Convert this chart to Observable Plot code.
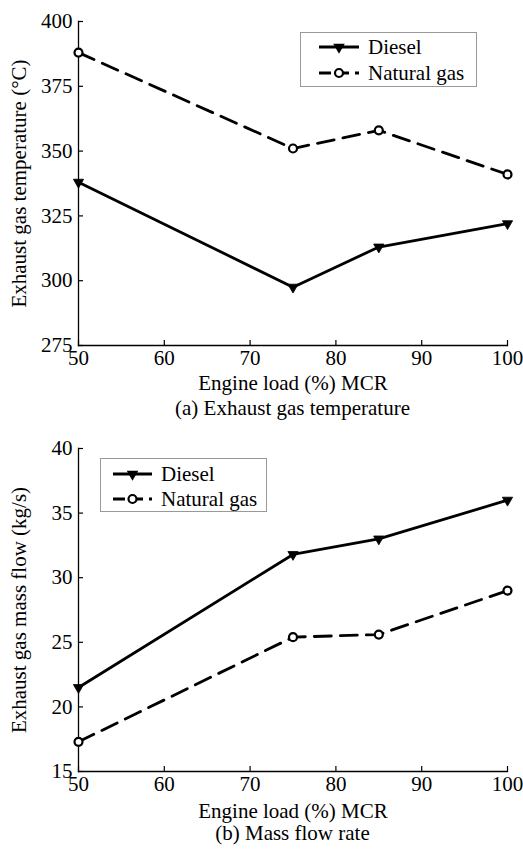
<!DOCTYPE html>
<html>
<head>
<meta charset="utf-8">
<script src="https://cdn.jsdelivr.net/npm/d3@7"></script>
<script src="https://cdn.jsdelivr.net/npm/@observablehq/plot@0.6"></script>
<style>
  html, body { margin: 0; padding: 0; background: #fff; }
  #wrap { position: relative; width: 523px; height: 851px; font-family: "Liberation Serif", "Times New Roman", serif; color: #000; }
  .panel { position: absolute; left: 0; }
  .caption { position: absolute; left: 78px; width: 429px; text-align: center; font-size: 21px; line-height: 21px; }
  .legend { position: absolute; border: 1px solid #999; background: #fff; box-sizing: border-box; }
</style>
</head>
<body>
<div id="wrap"></div>
<script>
// Engine load points (% MCR)
const loads = [50, 75, 85, 100];
const xTicks = [50, 60, 70, 80, 90, 100];

// (a) Exhaust gas temperature, °C
const tempDiesel = [338, 297.5, 313, 322];
const tempGas = [388, 351, 358, 341];
const tempTicks = [275, 300, 325, 350, 375, 400];

// (b) Exhaust gas mass flow, kg/s
const flowDiesel = [21.5, 31.8, 33, 36];
const flowGas = [17.3, 25.4, 25.6, 29];
const flowTicks = [15, 20, 25, 30, 35, 40];

const seriesNames = ["Diesel", "Natural gas"];

const FONT = "'Liberation Serif', 'Times New Roman', serif";
const LINE_W = 2.8;
const DASH = "17,9";

const rows = (vals) => loads.map((x, i) => ({x, y: vals[i]}));

function panel({diesel, gas, yDomain, yTicks, yLabel, height, marginTop, xLabelOffset}) {
  const d = rows(diesel), g = rows(gas);
  return Plot.plot({
    width: 523,
    height,
    marginLeft: 78,
    marginRight: 16,
    marginTop,
    marginBottom: 50,
    style: {fontFamily: FONT, fontSize: "21px", color: "#000", background: "transparent", overflow: "visible"},
    x: {domain: [50, 100]},
    y: {domain: yDomain},
    marks: [
      // axis lines (left and bottom only)
      Plot.frame({anchor: "left", strokeWidth: 1.3}),
      Plot.frame({anchor: "bottom", strokeWidth: 1.3}),
      // inward tick marks
      Plot.axisX({ticks: xTicks, tickSize: 5, dy: -5, text: null, label: null, strokeWidth: 1.2}),
      Plot.axisY({ticks: yTicks, tickSize: 5, dx: 5, text: null, label: null, strokeWidth: 1.2}),
      // tick labels and titles
      Plot.axisX({ticks: xTicks, tickSize: 0, tickPadding: 5, tickFormat: d3.format("d"),
        label: "Engine load (%) MCR", labelAnchor: "center", labelArrow: "none", labelOffset: xLabelOffset, fontSize: 21}),
      Plot.axisY({ticks: yTicks, tickSize: 0, tickPadding: 6, tickFormat: d3.format("d"),
        label: yLabel, labelAnchor: "center", labelArrow: "none", labelOffset: 67, fontSize: 21}),
      // series
      Plot.line(g, {x: "x", y: "y", stroke: "#000", strokeWidth: LINE_W, strokeDasharray: DASH}),
      Plot.line(d, {x: "x", y: "y", stroke: "#000", strokeWidth: LINE_W}),
      Plot.dot(g, {x: "x", y: "y", symbol: "circle", r: 4, fill: "#fff", stroke: "#000", strokeWidth: 2.2}),
      Plot.dot(d, {x: "x", y: "y", symbol: "triangle2", rotate: 180, r: 4.9, fill: "#000", stroke: "#000", strokeWidth: 0.8})
    ]
  });
}

// small legend box: solid line + down triangle, dashed line + open circle
function legend({left, top, width, height, sampleX0, sampleX1, textX, rowY}) {
  const box = document.createElement("div");
  box.className = "legend";
  Object.assign(box.style, {left: left + "px", top: top + "px", width: width + "px", height: height + "px"});
  const svg = d3.create("svg").attr("width", width - 2).attr("height", height - 2)
    .style("position", "absolute").style("left", "0").style("top", "0");
  seriesNames.forEach((name, i) => {
    const y = rowY[i];
    const cx = (sampleX0 + sampleX1) / 2;
    svg.append("line").attr("x1", sampleX0).attr("x2", sampleX1).attr("y1", y).attr("y2", y)
      .attr("stroke", "#000").attr("stroke-width", LINE_W)
      .attr("stroke-dasharray", i === 0 ? null : "12,6");
    if (i === 0) {
      svg.append("path").attr("d", d3.symbol(d3.symbolTriangle, 58)())
        .attr("transform", `translate(${cx},${y}) rotate(180)`).attr("fill", "#000");
    } else {
      svg.append("circle").attr("cx", cx).attr("cy", y).attr("r", 4)
        .attr("fill", "#fff").attr("stroke", "#000").attr("stroke-width", 2.2);
    }
    svg.append("text").attr("x", textX).attr("y", y).attr("dy", "0.35em")
      .attr("font-family", FONT).attr("font-size", 21).text(name);
  });
  box.appendChild(svg.node());
  return box;
}

const wrap = document.getElementById("wrap");

const panelA = panel({diesel: tempDiesel, gas: tempGas, yDomain: [275, 400], yTicks: tempTicks,
  yLabel: "Exhaust gas temperature (°C)", height: 395, marginTop: 21, xLabelOffset: 44});
panelA.classList.add("panel"); panelA.style.top = "0px";
wrap.appendChild(panelA);

const capA = document.createElement("div");
capA.className = "caption"; capA.style.top = "398px"; capA.textContent = "(a) Exhaust gas temperature";
wrap.appendChild(capA);

const panelB = panel({diesel: flowDiesel, gas: flowGas, yDomain: [15, 40], yTicks: flowTicks,
  yLabel: "Exhaust gas mass flow (kg/s)", height: 401, marginTop: 28, xLabelOffset: 46});
panelB.classList.add("panel"); panelB.style.top = "420px";
wrap.appendChild(panelB);

const capB = document.createElement("div");
capB.className = "caption"; capB.style.top = "823px"; capB.textContent = "(b) Mass flow rate";
wrap.appendChild(capB);

wrap.appendChild(legend({left: 300, top: 32, width: 177, height: 55,
  sampleX0: 18, sampleX1: 58, textX: 67, rowY: [14, 40]}));
wrap.appendChild(legend({left: 100, top: 458, width: 167, height: 54,
  sampleX0: 12, sampleX1: 51, textX: 60, rowY: [15, 40]}));
</script>
</body>
</html>
